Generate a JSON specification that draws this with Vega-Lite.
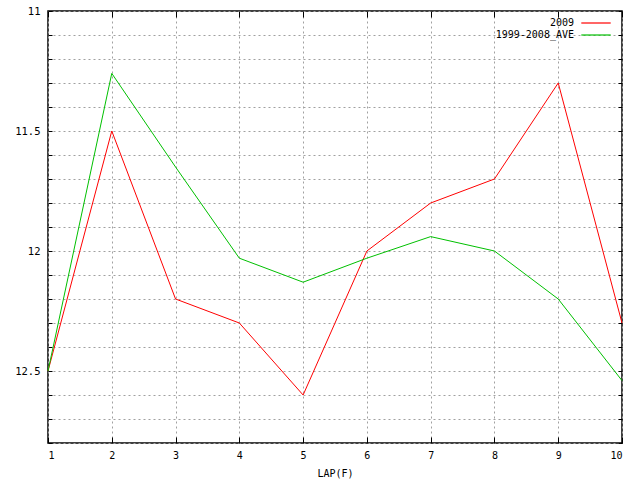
{
  "$schema": "https://vega.github.io/schema/vega-lite/v6.json",
  "description": "Lap times 2009 vs 1999-2008 average",
  "width": 574,
  "height": 432,
  "autosize": {"type": "none"},
  "padding": {"left": 48, "top": 11, "right": 18, "bottom": 37},
  "background": "white",
  "data": {
    "values": [
      {"lap": 1, "series": "2009", "time": 12.5},
      {"lap": 2, "series": "2009", "time": 11.5},
      {"lap": 3, "series": "2009", "time": 12.2},
      {"lap": 4, "series": "2009", "time": 12.3},
      {"lap": 5, "series": "2009", "time": 12.6},
      {"lap": 6, "series": "2009", "time": 12.0},
      {"lap": 7, "series": "2009", "time": 11.8},
      {"lap": 8, "series": "2009", "time": 11.7},
      {"lap": 9, "series": "2009", "time": 11.3},
      {"lap": 10, "series": "2009", "time": 12.3},
      {"lap": 1, "series": "1999-2008_AVE", "time": 12.5},
      {"lap": 2, "series": "1999-2008_AVE", "time": 11.26},
      {"lap": 3, "series": "1999-2008_AVE", "time": 11.65},
      {"lap": 4, "series": "1999-2008_AVE", "time": 12.03},
      {"lap": 5, "series": "1999-2008_AVE", "time": 12.13},
      {"lap": 6, "series": "1999-2008_AVE", "time": 12.03},
      {"lap": 7, "series": "1999-2008_AVE", "time": 11.94},
      {"lap": 8, "series": "1999-2008_AVE", "time": 12.0},
      {"lap": 9, "series": "1999-2008_AVE", "time": 12.2},
      {"lap": 10, "series": "1999-2008_AVE", "time": 12.54}
    ]
  },
  "layer": [
    {
      "mark": {"type": "line", "strokeWidth": 1},
      "encoding": {
        "x": {
          "field": "lap",
          "type": "quantitative",
          "scale": {"domain": [1, 10], "nice": false, "zero": false},
          "axis": {
            "values": [1, 2, 3, 4, 5, 6, 7, 8, 9, 10],
            "title": "LAP(F)",
            "titlePadding": 8,
            "labelPadding": 13,
            "tickSize": -6
          }
        },
        "y": {
          "field": "time",
          "type": "quantitative",
          "scale": {"domain": [11, 12.8], "reverse": true, "nice": false, "zero": false},
          "axis": {
            "values": [11, 11.1, 11.2, 11.3, 11.4, 11.5, 11.6, 11.7, 11.8, 11.9, 12, 12.1, 12.2, 12.3, 12.4, 12.5, 12.6, 12.7, 12.8],
            "labelExpr": "abs(datum.value * 2 - round(datum.value * 2)) < 0.01 ? format(datum.value, '~g') : ''",
            "title": null,
            "labelPadding": 12,
            "labelFontSize": 10.5,
            "tickSize": -4
          }
        },
        "color": {
          "field": "series",
          "type": "nominal",
          "scale": {"domain": ["2009", "1999-2008_AVE"], "range": ["#ff0000", "#00c000"]},
          "legend": {
            "title": null,
            "orient": "none",
            "legendX": 541,
            "legendY": 5,
            "symbolType": "M-2.45,0H2.45",
            "symbolSize": 144,
            "symbolStrokeWidth": 1.2,
            "labelAlign": "right",
            "labelOffset": -29,
            "rowPadding": 0
          }
        }
      }
    },
    {
      "mark": {"type": "line", "strokeOpacity": 0},
      "encoding": {
        "x": {
          "field": "lap",
          "type": "quantitative",
          "axis": {
            "orient": "top",
            "values": [1, 2, 3, 4, 5, 6, 7, 8, 9, 10],
            "labels": false,
            "grid": false,
            "title": null,
            "tickSize": -6
          }
        },
        "y": {
          "field": "time",
          "type": "quantitative",
          "axis": {
            "orient": "right",
            "values": [11, 11.1, 11.2, 11.3, 11.4, 11.5, 11.6, 11.7, 11.8, 11.9, 12, 12.1, 12.2, 12.3, 12.4, 12.5, 12.6, 12.7, 12.8],
            "labels": false,
            "grid": false,
            "title": null,
            "tickSize": -4
          }
        },
        "detail": {"field": "series"}
      }
    }
  ],
  "resolve": {"axis": {"x": "independent", "y": "independent"}},
  "config": {
    "font": "DejaVu Sans Mono",
    "view": {"stroke": "black", "strokeWidth": 1.5},
    "axis": {
      "domain": false,
      "grid": true,
      "gridColor": "#a0a0a0",
      "gridDash": [2, 3],
      "gridWidth": 1,
      "tickColor": "black",
      "tickWidth": 1,
      "labelFont": "DejaVu Sans Mono",
      "labelFontSize": 10,
      "labelColor": "black",
      "titleFont": "DejaVu Sans Mono",
      "titleFontSize": 10,
      "titleFontWeight": "normal",
      "titleColor": "black"
    },
    "legend": {
      "labelFont": "DejaVu Sans Mono",
      "labelFontSize": 10,
      "labelColor": "black"
    }
  }
}
